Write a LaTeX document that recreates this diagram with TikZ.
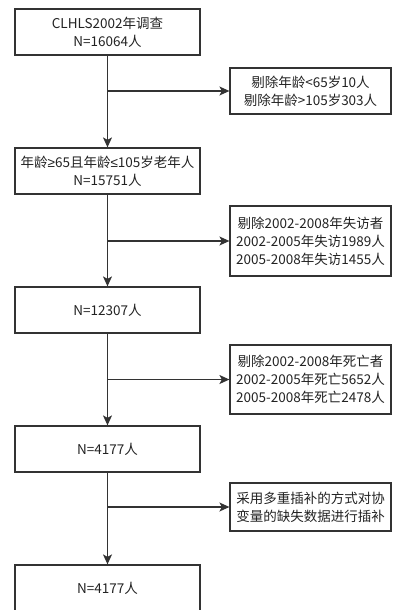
\documentclass[tikz,border=0pt]{standalone}
\usepackage{fontspec}
\setmainfont{Noto Sans CJK SC}
\newfontfamily\symf{Liberation Sans}
\usetikzlibrary{arrows.meta}
\definecolor{ln}{HTML}{333333}
\definecolor{tx}{HTML}{222222}
\begin{document}
\begin{tikzpicture}[x=1pt,y=-1pt,
  every node/.style={font=\fontsize{13.5}{18}\selectfont, text=tx},
  mainbox/.style={draw=ln, line width=1.2pt, rectangle, minimum width=185pt, minimum height=46pt, align=center, inner sep=0pt},
  sidebox/.style={draw=ln, line width=1.2pt, rectangle, minimum width=161pt, align=center, inner sep=0pt},
  flow/.style={draw=ln, line width=1.2pt, -{Stealth[length=10pt,width=9pt,inset=2.5pt]}}]
\useasboundingbox (0,0) rectangle (394,610);
\node[mainbox] (b1) at (107.5,32) {CLHLS2002年调查\\N=16064人};
\node[mainbox] (b2) at (107.5,171) {年龄{\symf ≥}65且年龄{\symf ≤}105岁老年人\\N=15751人};
\node[mainbox] (b3) at (107.5,310) {N=12307人};
\node[mainbox] (b4) at (107.5,449) {N=4177人};
\node[mainbox] (b5) at (107.5,588) {N=4177人};
\node[sidebox, minimum height=46pt] (r1) at (310.5,91) {剔除年龄<65岁10人\\剔除年龄>105岁303人};
\node[sidebox, minimum height=70pt] (r2) at (310.5,241) {剔除2002-2008年失访者\\2002-2005年失访1989人\\2005-2008年失访1455人};
\node[sidebox, minimum height=69pt] (r3) at (310.5,379.5) {剔除2002-2008年死亡者\\2002-2005年死亡5652人\\2005-2008年死亡2478人};
\node[sidebox, minimum height=48pt] (r4) at (310.5,507) {采用多重插补的方式对协\\变量的缺失数据进行插补};
\coordinate (j1) at (b1.south |- r1.west);
\coordinate (j2) at (b2.south |- r2.west);
\coordinate (j3) at (b3.south |- r3.west);
\coordinate (j4) at (b4.south |- r4.west);
\draw[flow] (b1.south) -- (b2.north);
\draw[flow] (b2.south) -- (b3.north);
\draw[flow] (b3.south) -- (b4.north);
\draw[flow] (b4.south) -- (b5.north);
\draw[flow] (j1) -- (r1.west);
\draw[flow] (j2) -- (r2.west);
\draw[flow] (j3) -- (r3.west);
\draw[flow] (j4) -- (r4.west);
\end{tikzpicture}
\end{document}
